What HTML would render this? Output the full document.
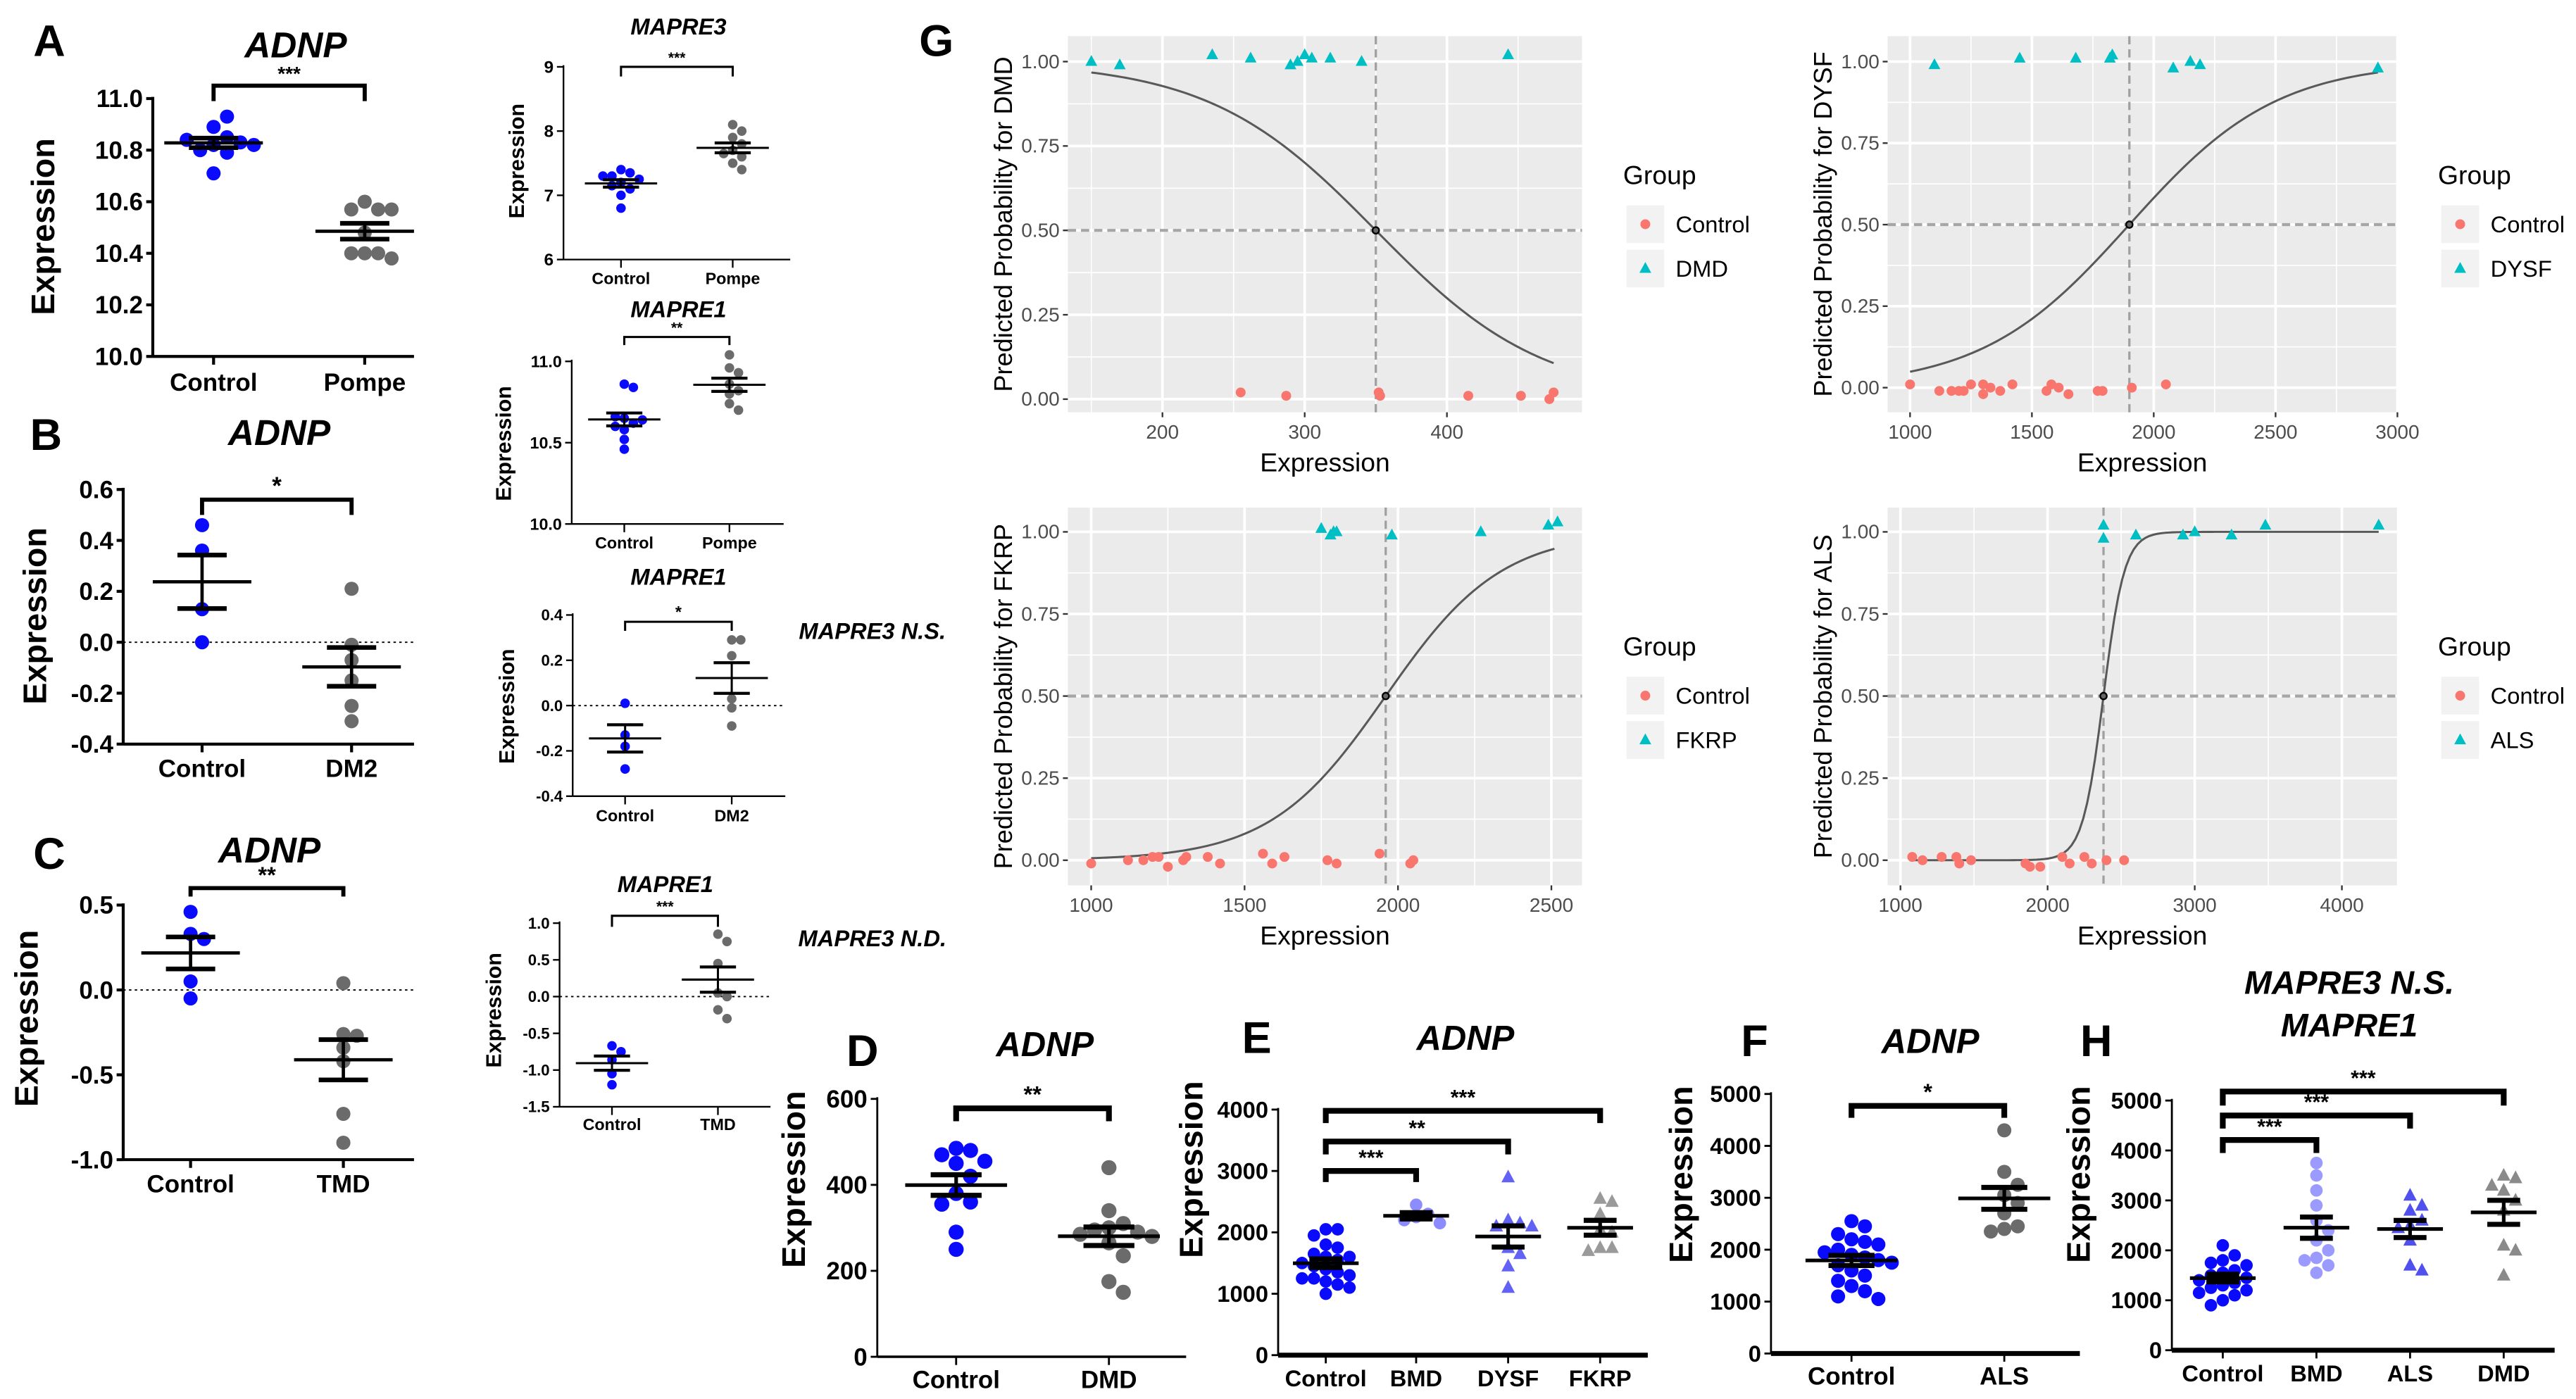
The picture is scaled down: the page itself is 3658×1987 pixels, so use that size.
<!DOCTYPE html>
<html><head><meta charset="utf-8"><style>
html,body{margin:0;padding:0;background:#fff;}
svg{display:block;font-family:"Liberation Sans",Arial,sans-serif;}
</style></head><body>
<svg id="fig" width="3658" height="1987" viewBox="0 0 1568 851.7" preserveAspectRatio="none" xmlns="http://www.w3.org/2000/svg"></svg>
<script>
// ---------- Dot plot data ----------
const aControl=[10.82,10.85,10.89,10.93,10.80,10.83,10.84,10.79,10.71,10.82];
const aPompe=[10.60,10.57,10.57,10.57,10.40,10.40,10.40,10.38,10.48];
const m3Control=[7.2,7.4,7.35,7.3,7.1,7.15,7.0,6.8,7.25,7.3];
const m3Pompe=[8.1,8.0,7.9,7.8,7.7,7.6,7.5,7.4,7.65];
const m1Control=[10.86,10.84,10.65,10.62,10.66,10.60,10.58,10.52,10.46,10.64];
const m1Pompe=[11.04,10.96,10.93,10.86,10.82,10.80,10.74,10.70];
const bControl=[0.46,0.36,0.13,0.0];
const bDM2=[0.21,-0.01,-0.07,-0.15,-0.25,-0.31];
const m1bControl=[0.01,-0.13,-0.18,-0.28];
const m1bDM2=[0.29,0.29,0.22,0.03,-0.01,-0.09];
const cControl=[0.46,0.33,0.30,0.05,-0.05];
const cTMD=[0.04,-0.26,-0.27,-0.34,-0.42,-0.73,-0.90];
const m1cControl=[-0.67,-0.75,-0.86,-1.05,-1.20];
const m1cTMD=[0.85,0.75,0.45,0.05,0.0,-0.18,-0.30];
const dControl=[485,480,470,455,450,420,380,360,355,290,250];
const dDMD=[440,340,310,300,295,290,285,280,265,235,175,150];
const eControl=[2050,2050,1950,1800,1750,1650,1600,1600,1550,1500,1450,1400,1350,1300,1250,1250,1200,1150,1100,1000];
const eBMD=[2450,2300,2250,2200,2150];
const eDYSF=[2900,2200,2150,2100,2100,1750,1650,1450,1100];
const eFKRP=[2550,2500,2300,2050,2000,1750,1750,1700];
const fControl=[2550,2450,2300,2200,2150,2100,2000,1950,1900,1850,1800,1750,1700,1600,1500,1400,1300,1200,1100,1050];
const fALS=[4300,3500,3250,3050,2900,2700,2450,2400,2350];
const hControl=[2100,1900,1800,1750,1700,1600,1550,1500,1450,1400,1350,1300,1250,1200,1150,1100,1000,900];
const hBMD=[3750,3500,3200,2900,2600,2400,2200,2000,1850,1800,1700,1550];
const hALS=[3100,2900,2800,2600,2500,2450,2200,1700,1600];
const hDMD=[3500,3450,3300,3200,3000,2800,2100,2000,1500];
// ---------- Logistic panel data ----------
const g1Case=[150,170,235,262,290,295,300,305,318,340,443];
const g1CaseY=[1.0,0.99,1.02,1.01,0.99,1.0,1.02,1.01,1.01,1.0,1.02];
const g1Ctrl=[255,287,352,353,415,452,472,475];
const g1CtrlY=[0.02,0.01,0.02,0.01,0.01,0.01,0.0,0.02];
const g2Case=[1100,1450,1680,1820,1830,2080,2150,2190,2920];
const g2CaseY=[0.99,1.01,1.01,1.01,1.02,0.98,1.0,0.99,0.98];
const g2Ctrl=[1000,1120,1170,1200,1220,1250,1300,1300,1330,1370,1420,1560,1580,1610,1650,1770,1790,1910,2050];
const g2CtrlY=[0.01,-0.01,-0.01,-0.01,-0.01,0.01,0.01,-0.02,0.0,-0.01,0.01,-0.01,0.01,0.0,-0.02,-0.01,-0.01,0.0,0.01];
const g3Case=[1750,1780,1790,1800,1980,2270,2490,2520];
const g3CaseY=[1.01,0.99,1.0,1.0,0.99,1.0,1.02,1.03];
const g3Ctrl=[1000,1120,1170,1200,1220,1250,1300,1310,1380,1420,1560,1590,1630,1770,1800,1940,2040,2050];
const g3CtrlY=[-0.01,0.0,0.0,0.01,0.01,-0.02,0.0,0.01,0.01,-0.01,0.02,-0.01,0.01,0.0,-0.01,0.02,-0.01,0.0];
const g4Case=[2380,2380,2600,2920,3000,3250,3480,4250];
const g4CaseY=[1.02,0.98,0.99,0.99,1.0,0.99,1.02,1.02];
const g4Ctrl=[1080,1150,1280,1380,1400,1480,1850,1880,1950,2100,2150,2250,2300,2400,2520];
const g4CtrlY=[0.01,0.0,0.01,0.01,-0.01,0.0,-0.01,-0.02,-0.02,0.01,-0.01,0.01,-0.01,0.0,0.0];
const gMid=[350,1900,1960,2380];
const gSlope=[-0.017,0.0033,0.0053,0.014];

const NS="http://www.w3.org/2000/svg";
const svg=document.getElementById('fig');
function el(tag,attrs,parent,text){const e=document.createElementNS(NS,tag);for(const k in attrs)e.setAttribute(k,attrs[k]);if(text!==undefined)e.textContent=text;(parent||svg).appendChild(e);return e;}
function txt(x,y,s,size,opt,parent,name){opt=opt||{};const a={x:x,y:y,'font-size':size,'text-anchor':opt.anchor||'middle','font-weight':opt.weight||'normal',fill:opt.fill||'#000'};if(opt.italic)a['font-style']='italic';if(opt.rot)a.transform='rotate(-90 '+x+' '+y+')';const t=el('text',a,parent,s);return t;}

function swarm(vals,yf,r){const placed=[];const out=[];vals.forEach(v=>{const y=yf(v);let k=0,off=0;for(;;){off=(k===0?0:(k%2?1:-1)*Math.ceil(k/2)*r*1.9);if(placed.every(p=>Math.hypot(p[0]-off,p[1]-y)>=r*1.9))break;k++;if(k>30)break;}placed.push([off,y]);out.push(off);});return out;}

function dotPlot(c){
  const g=el('g',{});
  const yf=v=>c.y0+(v-c.min)/(c.max-c.min)*(c.y1-c.y0);
  const sw=c.lw;
  el('line',{x1:c.ax,y1:yf(c.max)-1,x2:c.ax,y2:yf(c.min),stroke:'#000','stroke-width':sw},g);
  const xa=el('line',{x1:c.ax,y1:yf(c.min),x2:c.xEnd,y2:yf(c.min),stroke:'#000','stroke-width':c.xw||sw},g);
  c.ticks.forEach((t,i)=>{el('line',{x1:c.ax-4,y1:yf(t),x2:c.ax,y2:yf(t),stroke:'#000','stroke-width':sw},g);txt(c.ax-6,yf(t)+c.tf*0.35,c.tl[i],c.tf,{anchor:'end',weight:'bold'},g,'y-tick-label');});
  if(c.zero){const z=el('line',{x1:c.ax,y1:yf(0),x2:c.xEnd,y2:yf(0),stroke:'#000','stroke-width':0.8,'stroke-dasharray':'1.5 2'},g);}
  c.groups.forEach((gr,gi)=>{
    el('line',{x1:gr.x,y1:yf(c.min),x2:gr.x,y2:yf(c.min)+5,stroke:'#000','stroke-width':sw},g);
    txt(gr.x,c.catY,gr.label,c.cf,{weight:'bold'},g,'category-label');
    const offs=swarm(gr.vals,yf,c.r);
    gr.vals.forEach((v,i)=>{const x=gr.x+offs[i],y=yf(v);let m;
      if(gr.shape==='tri'){const r=c.r*1.2;m=el('polygon',{points:(x)+','+(y-r)+' '+(x-r*0.9)+','+(y+r*0.7)+' '+(x+r*0.9)+','+(y+r*0.7),fill:gr.color},g);}
      else m=el('circle',{cx:x,cy:y,r:c.r,fill:gr.color},g);
      });
    const n=gr.vals.length,mean=gr.vals.reduce((a,b)=>a+b,0)/n;
    const sd=Math.sqrt(gr.vals.reduce((a,b)=>a+(b-mean)*(b-mean),0)/(n-1)),se=sd/Math.sqrt(n);
    const ml=el('line',{x1:gr.x-c.mw,y1:yf(mean),x2:gr.x+c.mw,y2:yf(mean),stroke:'#000','stroke-width':c.ew},g);
    el('line',{x1:gr.x,y1:yf(mean+se),x2:gr.x,y2:yf(mean-se),stroke:'#000','stroke-width':c.ew},g);
    [mean+se,mean-se].forEach(v=>el('line',{x1:gr.x-c.mw*0.5,y1:yf(v),x2:gr.x+c.mw*0.5,y2:yf(v),stroke:'#000','stroke-width':c.ew*1.4},g));
  });
  (c.br||[]).forEach(b=>{const x1=c.groups[b[0]].x,x2=c.groups[b[1]].x,y=yf(b[2]);
    const p=el('path',{d:'M'+x1+','+yf(b[3])+'V'+y+'H'+x2+'V'+yf(b[4]),fill:'none',stroke:'#000','stroke-width':c.bw},g);
    txt((x1+x2)/2,y-2-c.bw/2,b[5],c.sf,{weight:'bold'},g,'significance-stars');});
  txt(c.ylx,c.yly,'Expression',c.yf,{weight:'bold',rot:true},g,'y-axis-title');
  txt(c.tx,c.ty,c.title,c.tsize,{weight:'bold',italic:true},g,'panel-title');
}
const BLUE='#0a0aff',GREY='#6b6b6b';
function rng(a,b,s){const r=[];for(let v=a;v<=b+1e-9;v+=s)r.push(+v.toFixed(3));return r;}

dotPlot({name:'panel-a',ax:93,y0:217,y1:60,min:10,max:11,ticks:rng(10,11,0.2),tl:['10.0','10.2','10.4','10.6','10.8','11.0'],tf:15,xEnd:252,lw:1.8,
 groups:[{label:'Control',x:130,vals:aControl,color:BLUE},{label:'Pompe',x:222,vals:aPompe,color:GREY}],catY:238,cf:15,r:4.3,mw:30,ew:2,
 br:[[0,1,11.05,10.99,10.99,'***']],bw:2.5,sf:12,ylx:33,yly:138,yf:20,title:'ADNP',tx:180,ty:35,tsize:22});
dotPlot({name:'panel-mapre3-pompe',ax:343,y0:158,y1:40.7,min:6,max:9,ticks:[6,7,8,9],tl:['6','7','8','9'],tf:10.5,xEnd:481,lw:1,
 groups:[{label:'Control',x:378,vals:m3Control,color:BLUE},{label:'Pompe',x:446,vals:m3Pompe,color:GREY}],catY:173,cf:10,r:2.9,mw:22,ew:1.3,
 br:[[0,1,9.0,8.85,8.85,'***']],bw:1.3,sf:9,ylx:319,yly:98,yf:13,title:'MAPRE3',tx:413,ty:21,tsize:14});
dotPlot({name:'panel-mapre1-pompe',ax:348,y0:319,y1:220,min:10,max:11,ticks:[10,10.5,11],tl:['10.0','10.5','11.0'],tf:10,xEnd:477,lw:1,
 groups:[{label:'Control',x:380,vals:m1Control,color:BLUE},{label:'Pompe',x:444,vals:m1Pompe,color:GREY}],catY:334,cf:10,r:2.9,mw:22,ew:1.3,
 br:[[0,1,11.15,11.1,11.1,'**']],bw:1.3,sf:9,ylx:311,yly:270,yf:13,title:'MAPRE1',tx:413,ty:193,tsize:14});
dotPlot({name:'panel-b',ax:75,y0:453,y1:298,min:-0.4,max:0.6,ticks:[-0.4,-0.2,0,0.2,0.4,0.6],tl:['-0.4','-0.2','0.0','0.2','0.4','0.6'],tf:15,xEnd:252,lw:1.8,zero:true,
 groups:[{label:'Control',x:123,vals:bControl,color:BLUE},{label:'DM2',x:214,vals:bDM2,color:GREY}],catY:473,cf:15,r:4.3,mw:30,ew:2,
 br:[[0,1,0.56,0.5,0.5,'*']],bw:2.5,sf:15,ylx:28,yly:375,yf:20,title:'ADNP',tx:170,ty:271,tsize:22});
dotPlot({name:'panel-mapre1-dm2',ax:348.6,y0:484.7,y1:374.4,min:-0.4,max:0.4,ticks:[-0.4,-0.2,0,0.2,0.4],tl:['-0.4','-0.2','0.0','0.2','0.4'],tf:9.5,xEnd:478,lw:1,zero:true,
 groups:[{label:'Control',x:380.5,vals:m1bControl,color:BLUE},{label:'DM2',x:445.4,vals:m1bDM2,color:GREY}],catY:500,cf:10,r:2.9,mw:22,ew:1.3,
 br:[[0,1,0.37,0.33,0.33,'*']],bw:1.3,sf:10,ylx:313,yly:430,yf:13,title:'MAPRE1',tx:413,ty:356,tsize:14});
dotPlot({name:'panel-c',ax:75,y0:706,y1:551,min:-1,max:0.5,ticks:[-1,-0.5,0,0.5],tl:['-1.0','-0.5','0.0','0.5'],tf:15,xEnd:252,lw:1.8,zero:true,
 groups:[{label:'Control',x:116,vals:cControl,color:BLUE},{label:'TMD',x:209,vals:cTMD,color:GREY}],catY:726,cf:15,r:4.3,mw:30,ew:2,
 br:[[0,1,0.6,0.55,0.55,'**']],bw:2.5,sf:14,ylx:23,yly:620,yf:20,title:'ADNP',tx:164,ty:525,tsize:22});
dotPlot({name:'panel-mapre1-tmd',ax:340.6,y0:673.8,y1:562,min:-1.5,max:1,ticks:[-1.5,-1,-0.5,0,0.5,1],tl:['-1.5','-1.0','-0.5','0.0','0.5','1.0'],tf:9.5,xEnd:469,lw:1,zero:true,
 groups:[{label:'Control',x:372.5,vals:m1cControl,color:BLUE},{label:'TMD',x:437,vals:m1cTMD,color:GREY}],catY:688,cf:10,r:2.9,mw:22,ew:1.3,
 br:[[0,1,1.1,0.95,0.95,'***']],bw:1.3,sf:9,ylx:305,yly:615,yf:13,title:'MAPRE1',tx:405,ty:543,tsize:14});
dotPlot({name:'panel-d',ax:534,y0:826,y1:669,min:0,max:600,ticks:[0,200,400,600],tl:['0','200','400','600'],tf:15,xEnd:722,lw:1.2,xw:1.5,
 groups:[{label:'Control',x:582,vals:dControl,color:BLUE},{label:'DMD',x:675,vals:dDMD,color:GREY}],catY:845,cf:15,r:4.6,mw:31,ew:2.2,
 br:[[0,1,578,548,548,'**']],bw:3.5,sf:14,ylx:490,yly:718,yf:20,title:'ADNP',tx:636,ty:643,tsize:21});
dotPlot({name:'panel-e',ax:778,y0:825,y1:675.5,min:0,max:4000,ticks:[0,1000,2000,3000,4000],tl:['0','1000','2000','3000','4000'],tf:14,xEnd:1003,lw:1.2,xw:3,
 groups:[{label:'Control',x:807,vals:eControl,color:BLUE},{label:'BMD',x:862,vals:eBMD,color:'#8c8cff'},{label:'DYSF',x:918,vals:eDYSF,color:'#6262f5',shape:'tri'},{label:'FKRP',x:974,vals:eFKRP,color:'#9a9a9a',shape:'tri'}],catY:844,cf:14,r:3.8,mw:20,ew:2.2,
 br:[[0,1,3000,2820,2820,'***'],[0,2,3480,3270,3270,'**'],[0,3,3980,3780,3780,'***']],bw:3.5,sf:13,ylx:732,yly:712,yf:20,title:'ADNP',tx:892,ty:639,tsize:21});
dotPlot({name:'panel-f',ax:1078,y0:824,y1:666,min:0,max:5000,ticks:[0,1000,2000,3000,4000,5000],tl:['0','1000','2000','3000','4000','5000'],tf:14,xEnd:1266,lw:1.2,xw:3,
 groups:[{label:'Control',x:1127,vals:fControl,color:BLUE},{label:'ALS',x:1220,vals:fALS,color:GREY}],catY:843,cf:15,r:4.3,mw:28,ew:2.2,
 br:[[0,1,4770,4540,4540,'*']],bw:3.5,sf:14,ylx:1030,yly:715,yf:20,title:'ADNP',tx:1175,ty:641,tsize:21});
dotPlot({name:'panel-h',ax:1322,y0:822,y1:670,min:0,max:5000,ticks:[0,1000,2000,3000,4000,5000],tl:['0','1000','2000','3000','4000','5000'],tf:14,xEnd:1555,lw:1.2,xw:3,
 groups:[{label:'Control',x:1353,vals:hControl,color:BLUE},{label:'BMD',x:1410,vals:hBMD,color:'#9a9aff'},{label:'ALS',x:1467,vals:hALS,color:'#5050ee',shape:'tri'},{label:'DMD',x:1524,vals:hDMD,color:'#8a8a8a',shape:'tri'}],catY:841,cf:14,r:3.8,mw:20,ew:2.2,
 br:[[0,1,4210,3950,3950,'***'],[0,2,4700,4440,4440,'***'],[0,3,5180,4900,4900,'***']],bw:3.5,sf:13,ylx:1272,yly:715,yf:20,title:'MAPRE1',tx:1430,ty:631,tsize:20});
txt(1430,605,'MAPRE3 N.S.',20,{weight:'bold',italic:true},null,'mapre3-ns-note');

// panel letters & notes
[['A',30,34],['B',28,274],['C',30,529],['D',525,649],['E',765,641],['F',1068,643],['H',1276,643],['G',570,34]].forEach(l=>txt(l[1],l[2],l[0],27,{weight:'bold'},null,'panel-letter'));
txt(531,389,'MAPRE3 N.S.',14,{weight:'bold',italic:true},null,'mapre3-ns-note');
txt(531,576,'MAPRE3 N.D.',14,{weight:'bold',italic:true},null,'mapre3-nd-note');

// ---------- Logistic panels ----------
function logPanel(c){
  const g=el('g',{});
  const xf=v=>c.px+ (v-c.xmin)/(c.xmax-c.xmin)*c.pw;
  const yf=p=>c.y100+(1-p)*(c.y0-c.y100);
  el('rect',{x:c.px,y:c.py,width:c.pw,height:c.ph,fill:'#ebebeb'},g);
  for(let p=0.125;p<1.1;p+=0.25){const y=yf(p);if(y>c.py&&y<c.py+c.ph)el('line',{x1:c.px,y1:y,x2:c.px+c.pw,y2:y,stroke:'#fff','stroke-width':0.7},g);}
  const step=c.ticks[1]-c.ticks[0];
  for(let v=c.ticks[0]-step/2;v<=c.xmax;v+=step){const x=xf(v);if(x>c.px&&x<c.px+c.pw)el('line',{x1:x,y1:c.py,x2:x,y2:c.py+c.ph,stroke:'#fff','stroke-width':0.7},g);}
  [0,0.25,0.5,0.75,1].forEach(p=>{const y=yf(p);el('line',{x1:c.px,y1:y,x2:c.px+c.pw,y2:y,stroke:'#fff','stroke-width':1.6},g);
    el('line',{x1:c.px-3,y1:y,x2:c.px,y2:y,stroke:'#333','stroke-width':1},g);
    txt(c.px-5,y+4,p.toFixed(2),12,{anchor:'end',fill:'#4d4d4d'},g,'y-tick-label');});
  c.ticks.forEach(t=>{const x=xf(t);el('line',{x1:x,y1:c.py,x2:x,y2:c.py+c.ph,stroke:'#fff','stroke-width':1.6},g);
    el('line',{x1:x,y1:c.py+c.ph,x2:x,y2:c.py+c.ph+3,stroke:'#333','stroke-width':1},g);
    txt(x,c.py+c.ph+16,String(t),12,{fill:'#4d4d4d'},g,'x-tick-label');});
  el('line',{x1:c.px,y1:yf(0.5),x2:c.px+c.pw,y2:yf(0.5),stroke:'#a6a6a6','stroke-width':1.8,'stroke-dasharray':'5 3'},g);
  el('line',{x1:xf(c.mid),y1:c.py,x2:xf(c.mid),y2:c.py+c.ph,stroke:'#a0a0a0','stroke-width':1.4,'stroke-dasharray':'5 3'},g);
  let d='';const n=120;for(let i=0;i<=n;i++){const v=c.c0+(c.c1-c.c0)*i/n;const p=1/(1+Math.exp(-c.k*(v-c.mid)));d+=(i?'L':'M')+xf(v).toFixed(2)+','+yf(p).toFixed(2);}
  el('path',{d:d,fill:'none',stroke:'#595959','stroke-width':1.3},g);
  el('circle',{cx:xf(c.mid),cy:yf(0.5),r:2,fill:'#666',stroke:'#000','stroke-width':1},g);
  c.ctrl.forEach((v,i)=>{const m=el('circle',{cx:xf(v),cy:yf(c.ctrlY[i]),r:3,fill:'#f8766d'},g);});
  c.cs.forEach((v,i)=>{const x=xf(v),y=yf(c.csY[i]);const m=el('polygon',{points:x+','+(y-4)+' '+(x-3.6)+','+(y+2.6)+' '+(x+3.6)+','+(y+2.6),fill:'#00bfc4'},g);});
  txt(c.px+c.pw/2,c.py+c.ph+36,'Expression',16,{},g,'x-axis-title');
  txt(c.px-34,c.py+c.ph/2,'Predicted Probability for '+c.grp,15.5,{rot:true},g,'y-axis-title');
  const lx=c.px+c.pw+25, ly=c.py+90;
  txt(lx,ly,'Group',16,{anchor:'start'},g,'legend-title');
  el('rect',{x:lx+2,y:ly+13,width:23,height:23,fill:'#f2f2f2'},g);
  el('rect',{x:lx+2,y:ly+40,width:23,height:23,fill:'#f2f2f2'},g);
  el('circle',{cx:lx+13.5,cy:ly+24.5,r:3,fill:'#f8766d'},g);
  const tx=lx+13.5,ty=ly+51.5;el('polygon',{points:tx+','+(ty-4)+' '+(tx-3.6)+','+(ty+2.6)+' '+(tx+3.6)+','+(ty+2.6),fill:'#00bfc4'},g);
  txt(lx+32,ly+29.5,'Control',14,{anchor:'start'},g,'legend-entry');
  txt(lx+32,ly+56.5,c.grp,14,{anchor:'start'},g,'legend-entry');
}
logPanel({name:'g-dmd',px:650,py:22,pw:313,ph:229,y100:37.5,y0:243,xmin:133.5,xmax:495,ticks:[200,300,400],mid:gMid[0],k:gSlope[0],c0:150,c1:475,cs:g1Case,csY:g1CaseY,ctrl:g1Ctrl,ctrlY:g1CtrlY,grp:'DMD'});
logPanel({name:'g-dysf',px:1149,py:22,pw:310,ph:229,y100:37.5,y0:236,xmin:908,xmax:2998,ticks:[1000,1500,2000,2500,3000],mid:gMid[1],k:gSlope[1],c0:1000,c1:2920,cs:g2Case,csY:g2CaseY,ctrl:g2Ctrl,ctrlY:g2CtrlY,grp:'DYSF'});
logPanel({name:'g-fkrp',px:650,py:309,pw:313,ph:230,y100:323.8,y0:523.7,xmin:924,xmax:2600,ticks:[1000,1500,2000,2500],mid:gMid[2],k:gSlope[2],c0:1000,c1:2510,cs:g3Case,csY:g3CaseY,ctrl:g3Ctrl,ctrlY:g3CtrlY,grp:'FKRP'});
logPanel({name:'g-als',px:1149,py:309,pw:310,ph:230,y100:323.8,y0:523.7,xmin:913,xmax:4374,ticks:[1000,2000,3000,4000],mid:gMid[3],k:gSlope[3],c0:1080,c1:4250,cs:g4Case,csY:g4CaseY,ctrl:g4Ctrl,ctrlY:g4CtrlY,grp:'ALS'});
</script>
</body></html>
